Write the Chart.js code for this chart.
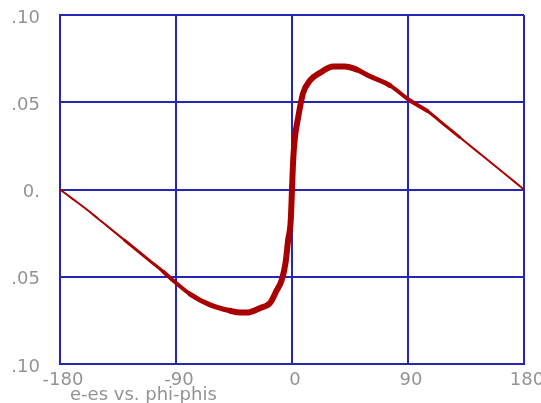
<!DOCTYPE html>
<html>
<head>
<meta charset="utf-8">
<script src="https://cdn.jsdelivr.net/npm/chart.js@4"></script>
<style>
  html, body { margin: 0; padding: 0; background: #fff; }
</style>
</head>
<body>
<canvas id="grafico" width="541" height="403"></canvas>
<script>
// datos
let fase = [-180, -170, -160, -150, -140, -130, -120, -110, -100, -94, -79, -64, -48, -40, -35, -25, -17, -12, -8, -5, -3, -1, 0, 1, 2.3, 4.7, 8.5, 14, 22, 32, 41, 50, 60, 76, 91.5, 105, 120, 130, 140, 150, 160, 170, 180];
let energia = [0, -0.0055, -0.011, -0.017, -0.023, -0.029, -0.035, -0.041, -0.047, -0.051, -0.060, -0.066, -0.0695, -0.0705, -0.0705, -0.068, -0.065, -0.058, -0.052, -0.042, -0.029, -0.018, 0, 0.018, 0.030, 0.041, 0.055, 0.0625, 0.067, 0.0705, 0.0705, 0.0688, 0.065, 0.0596, 0.051, 0.045, 0.036, 0.030, 0.024, 0.018, 0.012, 0.006, 0];

let ticksX = [-180, -90, 0, 90, 180];
let ticksY = [0.1, 0.05, 0, -0.05, -0.1];
let etiquetasY = [".10", ".05", "0.", ".05", ".10"];
let tituloX = "e-es vs. phi-phis";

let puntos = fase.map((x, i) => ({ x: x, y: energia[i] }));

let azul = "#2626b4";
let rojo = "#a80000";
let gris = "#939393";
let fuente = { family: "DejaVu Sans", size: 18 };

// titulo abajo a la izquierda
const tituloAbajo = {
    id: "tituloAbajo",
    afterDraw(chart) {
        let ctx = chart.ctx;
        ctx.save();
        ctx.font = "18px 'DejaVu Sans'";
        ctx.fillStyle = gris;
        ctx.textBaseline = "middle";
        ctx.fillText(tituloX, chart.chartArea.left + 10, 395);
        ctx.restore();
    }
};

// la traza es gruesa en el centro y fina en los extremos
function anchoLinea(ctx) {
    let x = Math.abs((ctx.p0.parsed.x + ctx.p1.parsed.x) / 2);
    if (x < 55) return 6;
    if (x < 80) return 5;
    if (x < 105) return 4;
    if (x < 135) return 3;
    return 2;
}

new Chart(document.getElementById("grafico"), {
    type: "scatter",
    data: {
        datasets: [{
            data: puntos,
            showLine: true,
            borderColor: rojo,
            backgroundColor: rojo,
            pointRadius: 0,
            borderCapStyle: "round",
            borderJoinStyle: "round",
            cubicInterpolationMode: "monotone",
            segment: { borderWidth: anchoLinea }
        }]
    },
    plugins: [tituloAbajo],
    options: {
        responsive: false,
        animation: false,
        layout: { padding: { top: 15, right: 17, left: 0, bottom: 0 } },
        plugins: { legend: { display: false }, tooltip: { enabled: false } },
        scales: {
            x: {
                type: "linear",
                min: -180,
                max: 180,
                afterBuildTicks: s => { s.ticks = ticksX.map(v => ({ value: v })); },
                afterFit: s => { s.height = 39; s.paddingLeft = 0; s.paddingRight = 0; },
                grid: { color: azul, lineWidth: 2, drawTicks: false },
                border: { color: azul, width: 2 },
                ticks: {
                    color: gris,
                    font: fuente,
                    padding: 6,
                    labelOffset: 3,
                    maxRotation: 0,
                    autoSkip: false,
                    callback: v => String(v)
                }
            },
            y: {
                min: -0.1,
                max: 0.1,
                afterBuildTicks: s => { s.ticks = ticksY.map(v => ({ value: v })); },
                afterFit: s => { s.width = 60; s.paddingTop = 0; s.paddingBottom = 0; },
                grid: { color: azul, lineWidth: 2, drawTicks: false },
                border: { color: azul, width: 2 },
                ticks: {
                    color: gris,
                    font: fuente,
                    padding: 20,
                    labelOffset: 3,
                    autoSkip: false,
                    callback: (v, i) => etiquetasY[i]
                }
            }
        }
    }
});
</script>
</body>
</html>
